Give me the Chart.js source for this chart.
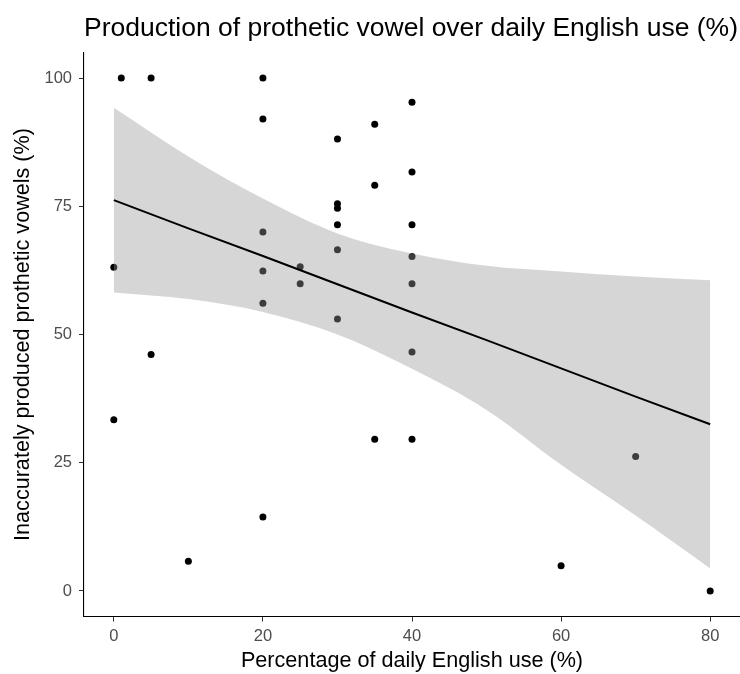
<!DOCTYPE html>
<html>
<head>
<meta charset="utf-8">
<script src="https://cdn.jsdelivr.net/npm/chart.js@4/dist/chart.umd.min.js"></script>
<style>
  html, body { margin: 0; padding: 0; background: #ffffff; }
  #wrap { width: 740px; height: 674px; }
</style>
</head>
<body>
<div id="wrap"><canvas id="chart" width="740" height="674"></canvas></div>
<script>
// Daily English use (%) per speaker
const englishUse = [1, 5, 20, 20, 20, 30, 35, 40, 40, 35, 30, 30, 30, 40, 30, 40, 0, 20, 25, 25, 20, 5, 0, 40, 30, 40, 35, 40, 20, 10, 60, 80, 70];
// Inaccurately produced prothetic vowels (%) per speaker
const inaccurate = [100, 100, 100, 92, 70, 88.1, 91.0, 95.3, 81.7, 79.1, 75.5, 74.6, 71.4, 71.4, 66.5, 65.2, 63.1, 62.4, 63.2, 59.9, 56.1, 46.1, 33.4, 59.9, 53.0, 46.6, 29.6, 29.6, 14.4, 5.8, 4.9, 0, 26.2];

// Linear fit and its 95% confidence band
const fitX = [0, 10, 20, 30, 40, 50, 60, 70, 80];
const fitY = [76.2, 70.7, 65.3, 59.8, 54.3, 48.9, 43.4, 37.9, 32.5];
const bandUpper = [94.2, 84.7, 76.5, 69.7, 65.8, 63.4, 62.3, 61.3, 60.6];
const bandLower = [58.2, 56.9, 54.4, 50.0, 43.3, 35.3, 24.6, 14.7, 4.4];

const xTicks = [0, 20, 40, 60, 80];
const yTicks = [0, 25, 50, 75, 100];

const FONT = '"Liberation Sans", Arial, Helvetica, sans-serif';

const toXY = (xs, ys) => xs.map((x, i) => ({ x: x, y: ys[i] }));

new Chart(document.getElementById('chart'), {
  type: 'scatter',
  data: {
    datasets: [
      {
        label: 'fit',
        data: toXY(fitX, fitY),
        showLine: true,
        borderColor: '#000000',
        borderWidth: 2,
        pointRadius: 0,
        fill: false,
        order: 0
      },
      {
        label: 'upper',
        data: toXY(fitX, bandUpper),
        showLine: true,
        borderColor: 'transparent',
        backgroundColor: 'rgba(153,153,153,0.4)',
        pointRadius: 0,
        cubicInterpolationMode: 'monotone',
        fill: '+1',
        order: 1
      },
      {
        label: 'lower',
        data: toXY(fitX, bandLower),
        showLine: true,
        borderColor: 'transparent',
        pointRadius: 0,
        cubicInterpolationMode: 'monotone',
        fill: false,
        order: 2
      },
      {
        label: 'speakers',
        data: toXY(englishUse, inaccurate),
        showLine: false,
        pointRadius: 3.5,
        pointBorderWidth: 0,
        pointBackgroundColor: '#000000',
        pointBorderColor: '#000000',
        order: 3
      }
    ]
  },
  options: {
    responsive: false,
    animation: false,
    devicePixelRatio: 1,
    layout: { padding: 0, autoPadding: false },
    plugins: {
      legend: { display: false },
      tooltip: { enabled: false },
      title: {
        display: true,
        text: 'Production of prothetic vowel over daily English use (%)',
        align: 'start',
        fullSize: false,
        color: '#000000',
        font: { family: FONT, size: 26.5, weight: 'normal', lineHeight: 1.2 },
        padding: { top: 12.4, bottom: 8.2 }
      }
    },
    scales: {
      x: {
        type: 'linear',
        min: -4,
        max: 84,
        afterBuildTicks: (axis) => { axis.ticks = xTicks.map(v => ({ value: v })); },
        afterFit: (axis) => { axis.height = 57.4; axis.paddingRight = 0; axis.paddingLeft = 0; },
        grid: { display: true, drawOnChartArea: false, drawTicks: true, tickLength: 5, tickColor: '#333333', color: '#333333', lineWidth: 1 },
        border: { display: true, color: '#000000', width: 1.1 },
        ticks: { color: '#4d4d4d', font: { family: FONT, size: 16.5 }, padding: 5, maxRotation: 0, autoSkip: false },
        title: {
          display: true,
          text: 'Percentage of daily English use (%)',
          color: '#000000',
          font: { family: FONT, size: 21.6, lineHeight: 1.2 },
          padding: { top: 0, bottom: 0 }
        }
      },
      y: {
        type: 'linear',
        min: -5,
        max: 105,
        afterBuildTicks: (axis) => { axis.ticks = yTicks.map(v => ({ value: v })); },
        afterFit: (axis) => { axis.width = 84; axis.paddingTop = 0; axis.paddingBottom = 0; },
        grid: { display: true, drawOnChartArea: false, drawTicks: true, tickLength: 5, tickColor: '#333333', color: '#333333', lineWidth: 1 },
        border: { display: true, color: '#000000', width: 1.1 },
        ticks: { color: '#4d4d4d', font: { family: FONT, size: 16.5 }, padding: 7, autoSkip: false },
        title: {
          display: true,
          text: 'Inaccurately produced prothetic vowels (%)',
          color: '#000000',
          font: { family: FONT, size: 21.6, lineHeight: 1.2 },
          padding: { top: 10, bottom: 0 }
        }
      }
    }
  }
});
</script>
</body>
</html>
